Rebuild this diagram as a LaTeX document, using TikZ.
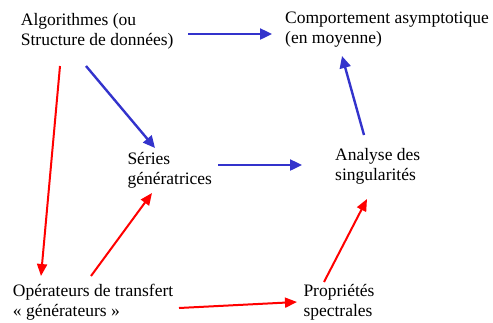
\documentclass[tikz,border=0pt]{standalone}
\usepackage{fontspec}
\setmainfont{Liberation Serif}
\usetikzlibrary{arrows.meta}
\definecolor{arrblue}{HTML}{3333CC}
\definecolor{arrred}{HTML}{FF0000}
\begin{document}
\begin{tikzpicture}[x=1pt,y=-1pt,
  lbl/.style={anchor=base west,inner sep=0pt,align=left,font=\fontsize{17.5}{19.5}\selectfont},
  bluearr/.style={draw=arrblue,line width=2.4pt,-{Triangle[length=12pt,width=11pt]}},
  redarr/.style={draw=arrred,line width=2pt,-{Triangle[length=12pt,width=10pt]}},
]
\useasboundingbox (0,0) rectangle (493,322);
\node[lbl] (alg) at (20.7,45) {Algorithmes (ou\\Structure de données)};
\node[lbl] (comp) at (285,43.3) {Comportement asymptotique\\(en moyenne)};
\node[lbl] (ser) at (127.3,184) {Séries\\génératrices};
\node[lbl] (ana) at (335,180) {Analyse des\\singularités};
\node[lbl] (op) at (12.7,316) {Opérateurs de transfert\\« générateurs »};
\node[lbl] (prop) at (303.3,316) {Propriétés\\spectrales};

\draw[bluearr] ([shift={(167.3,-11)}]alg.base west) -- ([shift={(-13,-9.3)}]comp.base west);
\draw[bluearr] ([shift={(65.3,21)}]alg.base west) -- ([shift={(27.7,-36)}]ser.base west);
\draw[redarr] ([shift={(39.3,21)}]alg.base west) -- ([shift={(28.3,-40)}]op.base west);
\draw[redarr] ([shift={(78.3,-40)}]op.base west) -- ([shift={(24.7,9)}]ser.base west);
\draw[bluearr] ([shift={(90.7,-19)}]ser.base west) -- ([shift={(-33,-15)}]ana.base west);
\draw[bluearr] ([shift={(29,-45)}]ana.base west) -- ([shift={(57,12.7)}]comp.base west);
\draw[redarr] ([shift={(166.3,-8)}]op.base west) -- ([shift={(-6.3,-14)}]prop.base west);
\draw[redarr] ([shift={(20.7,-34)}]prop.base west) -- ([shift={(32,19)}]ana.base west);
\end{tikzpicture}
\end{document}
